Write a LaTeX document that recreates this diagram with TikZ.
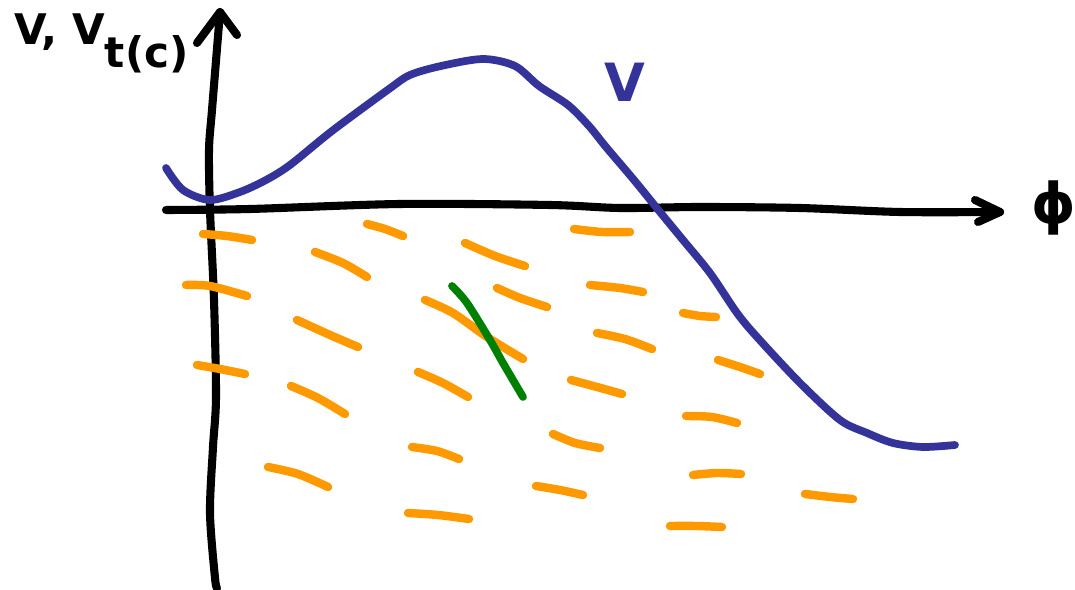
\documentclass[tikz,border=0pt]{standalone}
\usepackage{fontspec}
\setmainfont{DejaVu Sans}
\definecolor{penblue}{RGB}{51,51,153}
\definecolor{penorange}{RGB}{255,153,0}
\definecolor{pengreen}{RGB}{0,128,0}
\begin{document}
\begin{tikzpicture}[x=0.02cm,y=-0.02cm,
  pen/.style={line cap=round,line join=round},
  axisline/.style={pen,black,line width=4.6pt},
  curveV/.style={pen,penblue,line width=4.4pt},
  slope/.style={pen,penorange,line width=4.8pt},
  tangent/.style={pen,pengreen,line width=4.4pt}]
\useasboundingbox (0,0) rectangle (1075,590);
% axes
\coordinate (xstart) at (166,210);
\coordinate (xend) at (1000,212);
\coordinate (ystart) at (217,588);
\coordinate (yend) at (220,12);
\draw[axisline] plot[smooth] coordinates {(xstart) (250,209) (400,204) (550,205) (620,208) (700,207) (800,208) (900,212) (xend)};
\draw[axisline] (975,200) -- (xend) -- (978,222);
\draw[axisline] plot[smooth] coordinates {(ystart) (215,578) (210,513) (213,447) (216,397) (214,300) (210,210) (209,150) (212,110) (yend)};
\draw[axisline] (197,43) -- (yend) -- (237,35);
% slope field
\foreach \a/\b/\c in {
 {(203,234)}/{(227,236)}/{(252,240)},
 {(367,224)}/{(385,229)}/{(403,236)},
 {(574,229)}/{(602,232)}/{(630,232)},
 {(315,252)}/{(343,263)}/{(367,277)},
 {(465,243)}/{(495,256)}/{(525,266)},
 {(186,285)}/{(210,286)}/{(247,296)},
 {(497,288)}/{(520,298)}/{(547,307)},
 {(590,285)}/{(620,288)}/{(643,292)},
 {(683,313)}/{(700,316)}/{(716,317)},
 {(297,320)}/{(330,335)}/{(358,347)},
 {(597,333)}/{(625,339)}/{(652,349)},
 {(197,365)}/{(220,369)}/{(245,374)},
 {(291,386)}/{(318,398)}/{(345,414)},
 {(418,372)}/{(443,383)}/{(468,397)},
 {(571,380)}/{(597,387)}/{(622,394)},
 {(718,360)}/{(740,367)}/{(760,374)},
 {(686,416)}/{(712,417)}/{(737,423)},
 {(553,434)}/{(575,443)}/{(600,448)},
 {(412,447)}/{(437,451)}/{(459,459)},
 {(268,467)}/{(298,474)}/{(328,487)},
 {(693,475)}/{(717,473)}/{(741,474)},
 {(536,486)}/{(560,490)}/{(583,495)},
 {(805,494)}/{(830,497)}/{(853,499)},
 {(408,513)}/{(438,515)}/{(469,519)},
 {(670,526)}/{(696,526)}/{(722,527)}}
 {\draw[slope] plot[smooth] coordinates {\a \b \c};}
\draw[slope] plot[smooth] coordinates {(425,300) (453,313) (487,337) (523,359)};
% tangent
\coordinate (gs) at (452,286);
\coordinate (ge) at (523,397);
\draw[tangent] plot[smooth] coordinates {(gs) (467,303) (490,340) (503,363) (ge)};
% curve V
\draw[curveV] plot[smooth] coordinates {(166,168) (183,190) (210,200) (240,192) (266,180) (290,165) (332,131) (389,89) (410,75) (441,66) (483,59) (515,66) (539,86) (568,105) (589,126) (606,147) (634,180) (660,212) (683,240) (710,273) (737,313) (757,337) (800,383) (840,420) (867,433) (893,443) (923,447) (955,445)};
% labels
\node[anchor=base west,inner sep=0pt] (ylabel) at (14,45) {\bfseries\fontsize{24}{28}\selectfont V, V\raisebox{-13pt}{\fontsize{24}{28}\selectfont t(c)}};
\node[penblue,inner sep=0pt] (vlabel) at (625,82) {\bfseries\fontsize{30}{36}\selectfont V};
\node[inner sep=0pt] (xlabel) at (1054,208) {\bfseries\fontsize{32}{36}\selectfont ϕ};
\end{tikzpicture}
\end{document}
